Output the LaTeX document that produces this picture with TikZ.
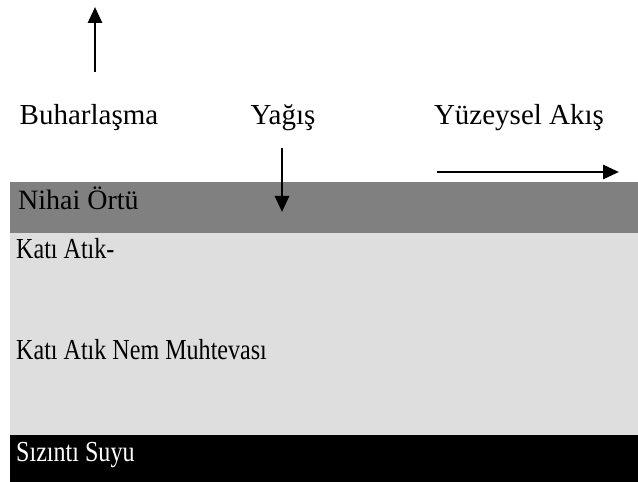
\documentclass[tikz,border=0pt]{standalone}
\usepackage{fontspec}
\usepackage{graphicx}
\setmainfont{Liberation Serif}
\usetikzlibrary{arrows.meta}
\definecolor{cover}{HTML}{808080}
\definecolor{waste}{HTML}{DEDEDE}
\newcommand{\squeezed}[1]{\scalebox{0.83}[1]{#1}}

\begin{document}
\begin{tikzpicture}[x=1pt,y=1pt,
    flow/.style={-{Triangle[length=16pt,width=14pt]},line width=2.7pt},
    toplabel/.style={font=\fontsize{29}{34}\selectfont,inner sep=0pt,anchor=base},
    layertext/.style={font=\fontsize{29}{34}\selectfont,inner sep=0pt,anchor=base west}]
    \useasboundingbox (0,0) rectangle (638,482);
    %layers
    \fill [cover] (10,249) rectangle (638,300);
    \fill [waste] (10,47) rectangle (638,249);
    \fill [black] (10,0) rectangle (638,47);
    \node [layertext,font=\fontsize{28}{34}\selectfont] (cover) at (18,272) {Nihai Örtü};
    \node [layertext] (waste1) at (16,223) {\squeezed{Katı Atık-}};
    \node [layertext] (waste2) at (16,122) {\squeezed{Katı Atık Nem Muhtevası}};
    \node [layertext,text=white] (leachate) at (16,20) {\squeezed{Sızıntı Suyu}};
    %labels
    \node [toplabel] (evap) at (89,357) {Buharlaşma};
    \node [toplabel] (rain) at (283,357) {Yağış};
    \node [toplabel] (runoff) at (519,357) {Yüzeysel Akış};
    %arrows
    \coordinate (evapA) at (95,410);
    \coordinate (evapB) at (95,475);
    \coordinate (rainA) at (282,334);
    \coordinate (rainB) at (282,270);
    \coordinate (runA) at (437,310);
    \coordinate (runB) at (619,310);
    \draw [flow] (evapA) -- (evapB);
    \draw [flow] (rainA) -- (rainB);
    \draw [flow] (runA) -- (runB);
\end{tikzpicture}
\end{document}
